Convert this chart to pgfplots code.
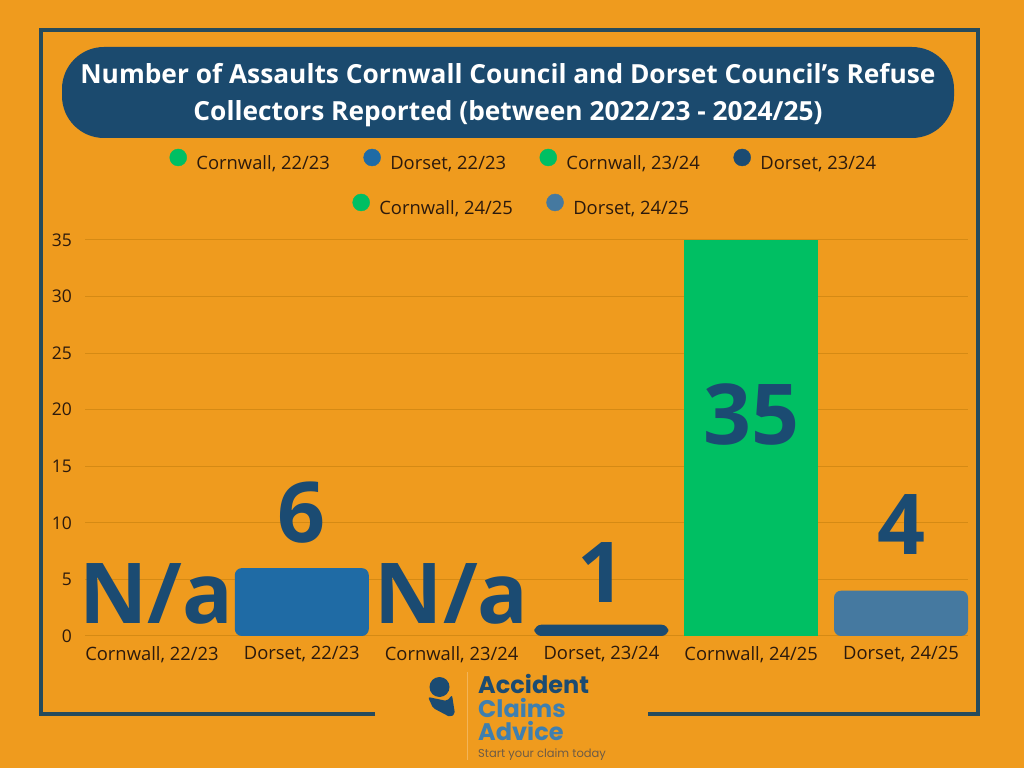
\documentclass[border=0pt]{standalone}
\usepackage{pgfplots}
\pgfplotsset{compat=1.18}
\usepackage{fontspec}
\setmainfont{Open Sans}
\newfontfamily\logofont{Poppins}
\definecolor{bg}{HTML}{EF9B1E}
\definecolor{framec}{HTML}{264B5C}
\definecolor{titlec}{HTML}{1B4A6E}
\definecolor{greenc}{HTML}{00BF63}
\definecolor{dor1}{HTML}{1F6BA5}
\definecolor{dor2}{HTML}{1B4B72}
\definecolor{dor3}{HTML}{4579A0}
\definecolor{valc}{HTML}{1B4B72}
\definecolor{gridc}{HTML}{D58A14}
\definecolor{tickc}{HTML}{2C1A0D}
\definecolor{logolight}{HTML}{3F7FAF}
\definecolor{tagc}{HTML}{6E5B45}
\definecolor{linelight}{HTML}{F3B458}
\begin{document}
\begin{tikzpicture}
\useasboundingbox (0,0) rectangle (1024pt,768pt);
\fill[bg] (0,0) rectangle (1024pt,768pt);
% frame
\draw[framec, line width=4pt] (375pt,54pt) -- (41pt,54pt) -- (41pt,738pt) -- (978pt,738pt) -- (978pt,54pt) -- (648pt,54pt);
% title box
\fill[titlec, rounded corners=42pt] (62pt,630pt) rectangle (954pt,721pt);
\node[anchor=base, text=white, font=\fontsize{26.3}{30}\selectfont\bfseries, inner sep=0pt] at (508pt,684pt) {Number of Assaults Cornwall Council and Dorset Council’s Refuse};
\node[anchor=base, text=white, font=\fontsize{26.3}{30}\selectfont\bfseries, inner sep=0pt] at (508pt,647pt) {Collectors Reported (between 2022/23 - 2024/25)};

\begin{axis}[
  at={(85pt,132pt)}, anchor=south west,
  scale only axis, width=883pt, height=396pt,
  xmin=-0.4473, xmax=5.4473, ymin=0, ymax=35,
  ybar, bar width=0.8945, bar shift=0pt,
  axis line style={draw=none},
  major tick length=0pt,
  ytick={0,5,...,35},
  xtick={0,1,2,3,4,5},
  xticklabels={{Cornwall, 22/23},{Dorset, 22/23},{Cornwall, 23/24},{Dorset, 23/24},{Cornwall, 24/25},{Dorset, 24/25}},
  ymajorgrids, grid style={draw=gridc, line width=1pt},
  tick label style={text=tickc},
  yticklabel style={font=\fontsize{17.5}{20}\selectfont, anchor=east, inner sep=0pt, xshift=-13pt},
  xticklabel style={font=\fontsize{18.4}{21}\selectfont, anchor=north, inner sep=0pt, yshift=-10pt},
  /pgf/number format/assume math mode=true,
  clip=false,
  legend columns=4,
  legend cell align=left,
  legend style={draw=none, fill=none, at={(0.0957,1.202)}, anchor=west, inner sep=0pt, outer sep=0pt,
    nodes={inner sep=0pt, font=\fontsize{18.4}{21}\selectfont, text=tickc},
    /tikz/every odd column/.append style={column sep=9.5pt},
    /tikz/every even column/.append style={column sep=33.5pt}},
  every node near coord/.append style={font=\fontsize{84}{84}\selectfont\bfseries, text=valc, inner sep=0pt},
]
\addplot[forget plot, draw=none, fill=none, nodes near coords={N/a}, every node near coord/.append style={yshift=11pt, xshift=4pt}] coordinates {(0,0)};
\addplot[forget plot, draw=none, fill=dor1, rounded corners=7pt, nodes near coords, every node near coord/.append style={yshift=25pt}] coordinates {(1,6)};
\addplot[forget plot, draw=none, fill=none, nodes near coords={N/a}, every node near coord/.append style={yshift=11pt}] coordinates {(2,0)};
\addplot[forget plot, draw=none, fill=dor2, rounded corners=7pt, nodes near coords, every node near coord/.append style={yshift=21.7pt}] coordinates {(3,1)};
\addplot[forget plot, draw=none, fill=greenc, nodes near coords, every node near coord/.append style={yshift=-206pt}] coordinates {(4,35)};
\addplot[forget plot, draw=none, fill=dor3, rounded corners=7pt, nodes near coords, every node near coord/.append style={yshift=35.8pt}] coordinates {(5,4)};

\addlegendimage{legend image code/.code={\fill[greenc] (0pt,6pt) circle (8.5pt);}}
\addlegendentry{Cornwall, 22/23}
\addlegendimage{legend image code/.code={\fill[dor1] (0pt,6pt) circle (8.5pt);}}
\addlegendentry{Dorset, 22/23}
\addlegendimage{legend image code/.code={\fill[greenc] (0pt,6pt) circle (8.5pt);}}
\addlegendentry{Cornwall, 23/24}
\addlegendimage{legend image code/.code={\fill[dor2] (0pt,6pt) circle (8.5pt);}}
\addlegendentry{Dorset, 23/24}
\end{axis}

\begin{axis}[
  at={(85pt,132pt)}, anchor=south west,
  scale only axis, width=883pt, height=396pt,
  xmin=0, xmax=1, ymin=0, ymax=1,
  hide axis,
  legend columns=2,
  legend cell align=left,
  legend style={draw=none, fill=none, at={(0.3029,1.0884)}, anchor=west, inner sep=0pt, outer sep=0pt,
    nodes={inner sep=0pt, font=\fontsize{18.4}{21}\selectfont, text=tickc},
    /tikz/every odd column/.append style={column sep=9.5pt},
    /tikz/every even column/.append style={column sep=33.5pt}},
]
\addlegendimage{legend image code/.code={\fill[greenc] (0pt,6pt) circle (8.5pt);}}
\addlegendentry{Cornwall, 24/25}
\addlegendimage{legend image code/.code={\fill[dor3] (0pt,6pt) circle (8.5pt);}}
\addlegendentry{Dorset, 24/25}
\end{axis}

% logo
\fill[valc] (439.5pt,81pt) circle (10pt);
\fill[valc, rounded corners=2pt] (428pt,71pt) -- (447pt,67pt) -- (452pt,73pt) -- (455pt,54pt) -- (450pt,51pt) -- (433pt,60pt) -- cycle;
\draw[linelight, line width=1pt] (467pt,96pt) -- (467pt,8pt);
\node[anchor=base west, inner sep=0pt, text=valc, font=\logofont\fontsize{24}{24}\selectfont\bfseries] at (478pt,75pt) {Accident};
\node[anchor=base west, inner sep=0pt, text=logolight, font=\logofont\fontsize{24}{24}\selectfont\bfseries] at (478pt,51pt) {Claims};
\node[anchor=base west, inner sep=0pt, text=logolight, font=\logofont\fontsize{24}{24}\selectfont\bfseries] at (478pt,28pt) {Advice};
\node[anchor=base west, inner sep=0pt, text=tagc, font=\logofont\fontsize{11.5}{12}\selectfont] at (478pt,11pt) {Start your claim today};
\end{tikzpicture}
\end{document}
